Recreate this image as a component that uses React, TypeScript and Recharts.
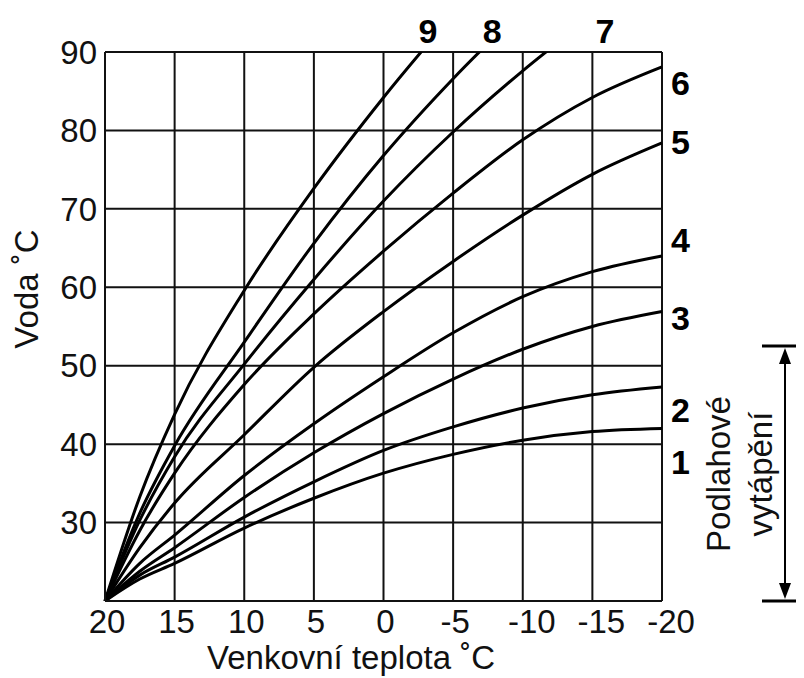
import React from 'react';
import {
  LineChart,
  Line,
  XAxis,
  YAxis,
  CartesianGrid,
  ReferenceDot,
} from 'recharts';

// outdoor temperature (x) and water temperature per heating curve (y)
const temps = [20, 17.5, 15, 10, 5, 0, -5, -10, -15, -20];
const curve1 = [20, 22.8, 24.8, 29.3, 33.1, 36.3, 38.7, 40.5, 41.6, 42.0];
const curve2 = [20, 23.3, 25.6, 30.7, 35.2, 39.2, 42.2, 44.6, 46.3, 47.3];
const curve3 = [20, 23.8, 26.8, 33.2, 38.9, 43.9, 48.3, 52.1, 55.0, 56.9];
const curve4 = [20, 24.8, 28.4, 36.0, 42.6, 48.6, 54.2, 58.8, 62.0, 64.0];
const curve5 = [20, 26.8, 32.5, 41.2, 49.8, 56.9, 63.3, 69.2, 74.4, 78.4];
const curve6 = [20, 29.0, 36.3, 47.6, 56.6, 64.6, 72.0, 78.8, 84.2, 88.1];
const curve7 = [20, 30.3, 38.4, 50.2, 61.0, 71.0, 79.8, 87.6, 94.6, null];
const curve8 = [20, 31.2, 39.8, 53.0, 65.6, 76.8, 86.6, 95.4, null, null];
const curve9 = [20, 33.3, 43.8, 59.6, 72.6, 84.2, 94.8, null, null, null];

const curves = [curve1, curve2, curve3, curve4, curve5, curve6, curve7, curve8, curve9];

const xTicks = [20, 15, 10, 5, 0, -5, -10, -15, -20];
const yTicks = [20, 30, 40, 50, 60, 70, 80, 90];

// curve numbers: 9, 8, 7 above the top edge, 6..1 beside the right edge
const topLabels = [
  { name: '9', t: -3.2 },
  { name: '8', t: -7.8 },
  { name: '7', t: -15.9 },
];
const rightLabels = [
  { name: '6', v: 86.0 },
  { name: '5', v: 78.5 },
  { name: '4', v: 66.0 },
  { name: '3', v: 56.1 },
  { name: '2', v: 44.4 },
  { name: '1', v: 37.7 },
];

const data = temps.map((t, i) => {
  const row: Record<string, number | null> = { t };
  curves.forEach((c, k) => {
    row[`c${k + 1}`] = c[i];
  });
  return row;
});

const FONT = '"Liberation Sans", Arial, Helvetica, sans-serif';

const XTick = (props: any) => {
  const { x, y, payload } = props;
  const v = payload.value;
  const dx = v <= -10 ? 9 : 2;
  return (
    <text x={x + dx} y={y} dy="0.72em" textAnchor="middle" fontSize={33} fill="#111" fontFamily={FONT}>
      {String(v)}
    </text>
  );
};

const labelStyle = { fontSize: 34, fontWeight: 'bold', fill: '#000', fontFamily: FONT };

export default function App() {
  return (
    <div style={{ position: 'relative', width: 796, height: 670, background: '#fff' }}>
      <LineChart
        width={796}
        height={670}
        data={data}
        margin={{ top: 44, right: 142, left: 37, bottom: 27 }}
      >
        <CartesianGrid stroke="#111" strokeWidth={2} />
        <XAxis
          dataKey="t"
          type="number"
          domain={[-20, 20]}
          reversed
          ticks={xTicks}
          interval={0}
          height={50}
          tickLine={false}
          axisLine={{ stroke: '#111', strokeWidth: 2 }}
          tick={<XTick />}
        />
        <YAxis
          type="number"
          domain={[20, 90]}
          ticks={yTicks}
          interval={0}
          allowDataOverflow
          width={60}
          tickLine={false}
          axisLine={{ stroke: '#111', strokeWidth: 2 }}
          tickFormatter={(v) => (v === 20 ? '' : String(v))}
          tick={{ fill: '#111', fontSize: 33, fontFamily: FONT }}
        />
        {curves.map((_, k) => (
          <Line
            key={k}
            type="monotone"
            dataKey={`c${k + 1}`}
            stroke="#000"
            strokeWidth={3}
            dot={false}
            isAnimationActive={false}
          />
        ))}
        {topLabels.map((l) => (
          <ReferenceDot
            key={l.name}
            x={l.t}
            y={90}
            r={0}
            fill="none"
            stroke="none"
            label={{ value: l.name, position: 'top', offset: 9, ...labelStyle }}
          />
        ))}
        {rightLabels.map((l) => (
          <ReferenceDot
            key={l.name}
            x={-20}
            y={l.v}
            r={0}
            fill="none"
            stroke="none"
            label={{ value: l.name, position: 'right', offset: 9, ...labelStyle }}
          />
        ))}
      </LineChart>
      <svg
        width={796}
        height={670}
        style={{ position: 'absolute', left: 0, top: 0, pointerEvents: 'none' }}
        fontFamily={FONT}
      >
        <text x={18} y={281} transform="rotate(-90 18 281)" textAnchor="middle" dominantBaseline="central" fontSize={33} fill="#111">
          Voda ˚C
        </text>
        <text x={343} y={661} textAnchor="middle" fontSize={33} fill="#111">
          Venkovní teplota ˚C
        </text>
        <text x={710} y={466} transform="rotate(-90 710 466)" textAnchor="middle" dominantBaseline="central" fontSize={33} fill="#111">
          Podlahové
        </text>
        <text x={752} y={466} transform="rotate(-90 752 466)" textAnchor="middle" dominantBaseline="central" fontSize={33} fill="#111">
          vytápění
        </text>
        <line x1={754} y1={338} x2={796} y2={338} stroke="#000" strokeWidth={3} />
        <line x1={754} y1={593} x2={796} y2={593} stroke="#000" strokeWidth={3} />
        <line x1={777} y1={350} x2={777} y2={581} stroke="#000" strokeWidth={2} />
        <polygon points="777,340 771,356 783,356" fill="#000" />
        <polygon points="777,591 771,575 783,575" fill="#000" />
      </svg>
    </div>
  );
}
